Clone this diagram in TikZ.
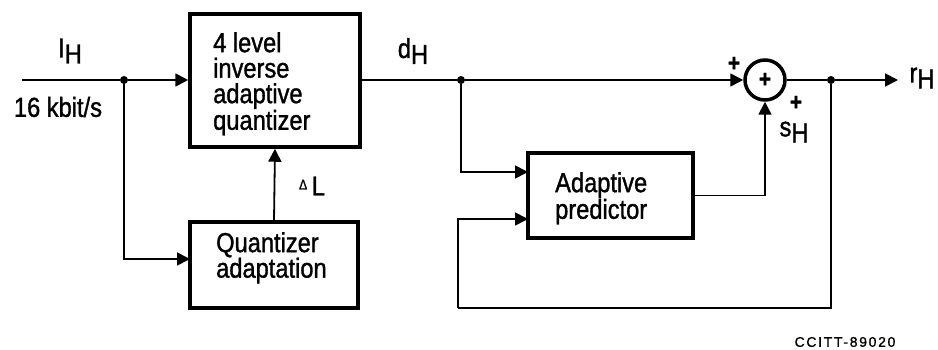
\documentclass[tikz,border=0pt]{standalone}
\usepackage{fontspec}
\setmainfont{Liberation Sans}[FakeStretch=0.86,FakeBold=1.2]
\newfontfamily\figfont{Liberation Sans}[LetterSpace=12,FakeBold=1]
\usetikzlibrary{arrows.meta}
\begin{document}
\begin{tikzpicture}[x=1pt,y=-1pt,
  blk/.style={draw,line width=3.5pt,inner sep=0pt},
  txt/.style={font=\fontsize{27.5}{25.5}\selectfont,align=left,inner sep=0pt},
  lab/.style={font=\fontsize{27.5}{25.5}\selectfont,inner sep=0pt},
  ln/.style={line width=1.8pt},
  arr/.style={ln,-{Triangle[length=13pt,width=13pt]}},
  dot/.style={circle,fill,inner sep=0pt,minimum size=8pt},
  sgn/.style={font=\fontsize{24}{24}\bfseries,inner sep=0pt}]
\useasboundingbox (0,0) rectangle (938,350);
% blocks
\node[blk,minimum width=170pt,minimum height=133pt] (q) at (275,80.5) {};
\node[txt,anchor=north west] (qt) at (213,32) {4 level\\inverse\\adaptive\\quantizer};
\node[blk,minimum width=168pt,minimum height=86pt] (qa) at (274,265) {};
\node[txt,anchor=north west] (qat) at (216,232) {Quantizer\\adaptation};
\node[blk,minimum width=165pt,minimum height=85pt] (ap) at (610.5,195.5) {};
\node[txt,anchor=north west] (apt) at (555,172) {Adaptive\\predictor};
\node[circle,draw,line width=3.5pt,minimum size=40pt,inner sep=0pt] (sum) at (765,80) {};
\node[sgn] (sp) at (sum) {+};
% junctions and free ends
\coordinate (in) at (22,80);
\node[dot] (j1) at (124,80) {};
\node[dot] (j2) at (461,80) {};
\node[dot] (j3) at (831,80) {};
\coordinate (out) at (898,80);
\coordinate (qain) at (190,259);
\coordinate (apin1) at (528,172);
\coordinate (apin2) at (528,219);
\coordinate (fbc) at (458,308);
% connectors
\draw[ln] (in) -- (j1);
\draw[arr] (j1) -- (q.west |- j1);
\draw[arr] (j1) |- (qain);
\draw[arr] (qa.north) -- (q.south);
\draw[ln] (q.east |- j1) -- (j2);
\draw[arr] (j2) -- (sum.west);
\draw[arr] (j2) |- (apin1);
\draw[arr] (ap.east) -| (sum.south);
\draw[ln] (sum.east) -- (j3);
\draw[arr] (j3) -- (out);
\draw[ln] (j3) |- (fbc);
\draw[arr] (fbc) |- (apin2);
% labels
\node[lab] (lIH) at (70,51) {I\raisebox{-6pt}{H}};
\node[lab] (lrate) at (58,107) {16 kbit/s};
\node[lab] (ldH) at (413,51) {d\raisebox{-6pt}{H}};
\node[lab] (ldL) at (312,186) {\raisebox{6pt}{\fontsize{14}{14}\selectfont Δ}\,L};
\node[sgn] (p1) at (734,64) {+};
\node[sgn] (p2) at (796,103) {+};
\node[lab] (lsH) at (794,132) {s\raisebox{-6pt}{H}};
\node[lab] (lrH) at (922,78) {r\raisebox{-6pt}{H}};
\node[font=\figfont\fontsize{14}{14}\selectfont,inner sep=0pt] (fig) at (845,342) {CCITT-89020};
\end{tikzpicture}
\end{document}
